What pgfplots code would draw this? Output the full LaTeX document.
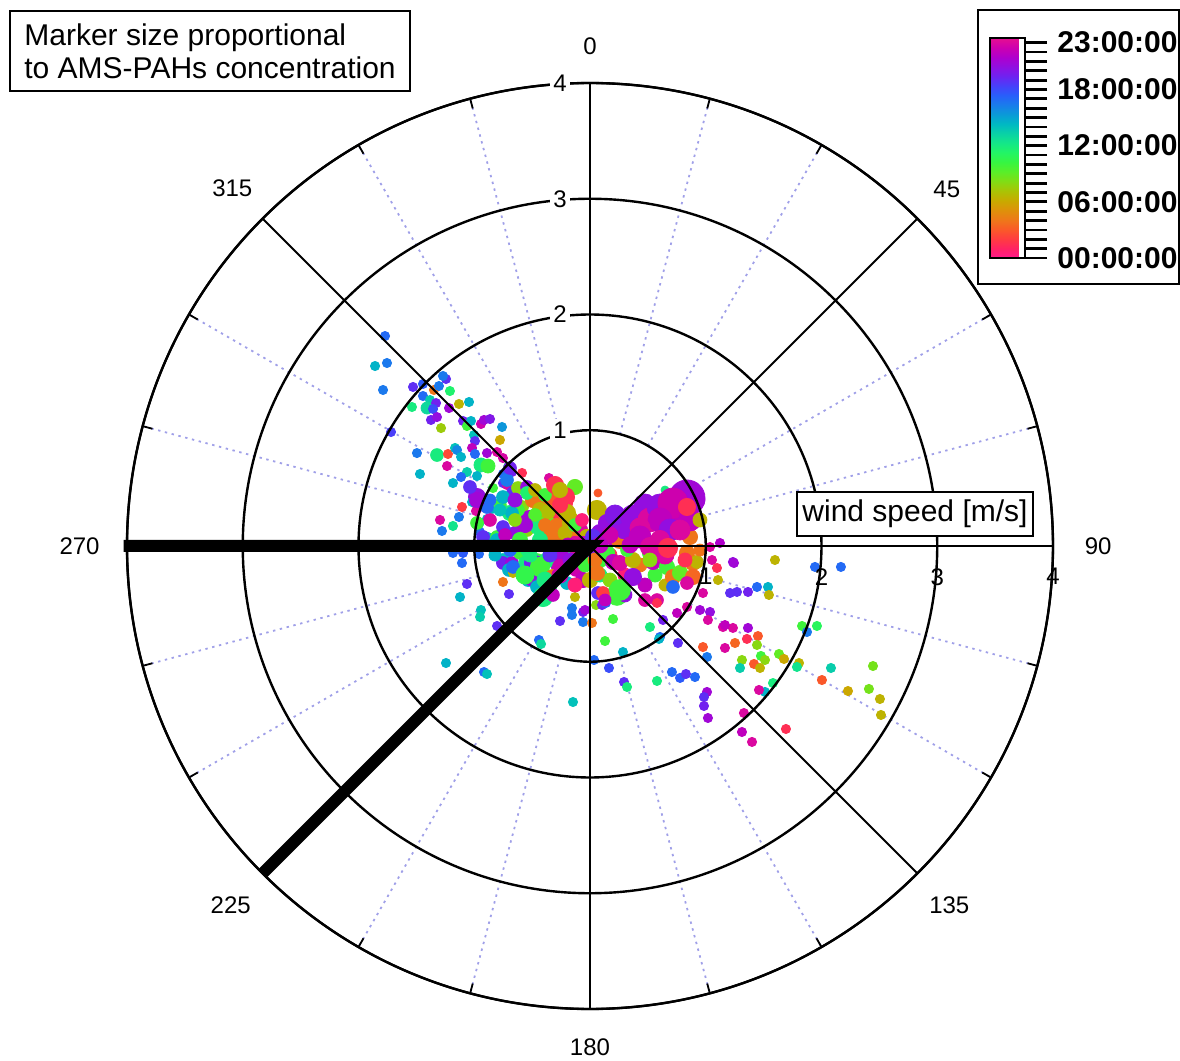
\documentclass[border=0pt]{standalone}
\usepackage{pgfplots}
\pgfplotsset{compat=1.18}
\usepackage{pgfplotstable}
\usepgfplotslibrary{polar}
\usetikzlibrary{calc}
\usepackage{fontspec}
\setmainfont{Liberation Sans}

% hour of day colour scale, 00 to 23
\pgfplotsset{
  colormap={hrs}{
    rgb255=(255,25,140) rgb255=(255,35,100) rgb255=(255,60,65) rgb255=(250,90,40)
    rgb255=(238,120,25) rgb255=(222,145,10) rgb255=(200,170,0) rgb255=(170,195,5)
    rgb255=(130,220,20) rgb255=(90,238,40) rgb255=(55,245,65) rgb255=(35,245,100)
    rgb255=(20,232,135) rgb255=(10,210,165) rgb255=(0,185,195) rgb255=(10,155,215)
    rgb255=(25,125,235) rgb255=(40,95,250) rgb255=(70,65,250) rgb255=(110,35,240)
    rgb255=(145,15,225) rgb255=(175,0,205) rgb255=(205,0,175) rgb255=(230,15,145)
  }
}

% x = east, y = north component of wind [m/s]; h = hour; s = marker radius [pt]
\pgfplotstableread{
x y h s
-1.771 1.814 17 2.3
-1.857 1.555 14.5 2.3
-1.754 1.581 16.5 2.3
-1.788 1.348 16.5 2.3
-1.719 0.985 18.5 2.3
-1.529 1.374 19 2.3
-1.443 1.400 17.5 2.3
-1.348 1.348 4 2.3
-1.443 1.296 17 2.3
-1.305 1.382 16.5 2.3
-1.244 1.443 19 2.3
-1.270 1.469 16.5 2.3
-1.210 1.339 11.5 2.3
-1.538 1.201 12 2.3
-1.382 1.261 13.5 2.3
-1.408 1.192 13 3
-1.330 1.235 19.5 2.3
-1.356 1.184 18 2.3
-1.218 1.192 21 2.3
-1.132 1.227 6.5 2.3
-1.045 1.244 14.5 2.3
-1.374 1.089 19.5 2.3
-1.322 1.114 20.5 2.3
-1.287 1.019 7.5 2.3
-1.097 1.080 19.5 2.3
-1.063 1.037 10 2.3
-1.028 1.080 14.5 2.3
-0.942 1.054 22.5 2.3
-0.916 1.089 21 2.3
-0.864 1.097 20 2.3
-0.760 1.028 15.5 2.3
-1.002 0.959 14 2.3
-0.994 0.907 19 2.3
-0.778 0.916 6 2.3
-1.495 0.803 16.5 2.3
-1.322 0.786 12 3.2
-1.227 0.795 2.5 2.3
-1.235 0.691 23 2.3
-1.166 0.847 14 2.3
-1.149 0.829 16 2.3
-1.114 0.769 14.5 2.3
-1.019 0.847 22 2.3
-0.994 0.795 17 2.3
-0.890 0.803 21 2.3
-0.803 0.812 23 2.3
-0.752 0.760 22.8 2.3
-0.942 0.700 12 3.5
-0.881 0.691 10 3.5
-1.469 0.622 14.5 2.3
-1.063 0.639 13.5 2.3
-0.976 0.605 14.5 2.3
-1.114 0.596 17 2.3
-0.752 0.622 17 2.3
-0.674 0.639 19.5 2.3
-0.708 0.683 11 2.3
-1.296 0.225 23 2.3
-1.279 0.130 16.5 2.3
-1.184 0.173 12.5 2.3
-1.132 0.251 16.5 2.3
-1.106 0.337 2 2.3
-1.184 0.544 14.5 2.3
-0.976 0.423 20.5 4.3
-1.019 0.380 14.5 2.3
-0.985 0.302 23 2.3
-0.924 0.337 22 2.3
-0.959 0.190 14 2.3
-0.890 0.233 14.5 2.3
-0.838 0.501 10 2.3
-0.587 0.631 1.5 2.3
-0.354 0.587 23 2.3
-0.752 0.544 19 2.3
-0.717 0.527 23 2.3
-0.665 0.458 19 3.2
-0.622 0.501 8 3.2
-0.544 0.510 20.5 3.2
-0.501 0.458 21 3.2
-0.432 0.371 6.5 3.8
-0.371 0.337 4 3.8
-0.130 0.510 9 3.8
-0.216 0.423 1.5 4.8
-0.847 0.337 14.5 3.2
-0.778 0.354 10 3.2
-0.691 0.285 12 3.8
-0.587 0.337 8 3.2
-0.518 0.225 21 4.8
-0.432 0.251 10 3.8
-0.320 0.225 4 3.8
-0.259 0.285 1.5 4.3
-0.173 0.225 6.5 4.3
-0.950 0.121 17 2.3
-0.881 0.078 14 2.3
-0.803 0.078 10 3.2
-0.717 0.112 17.5 3.2
-0.631 0.112 20.5 3.8
-0.544 0.138 8 3.2
-0.371 0.112 4 3.8
-0.259 0.138 3.5 3.8
-0.147 0.164 10 3.8
-1.184 -0.060 17 2.3
-1.097 -0.060 17.5 2.3
-1.106 -0.147 17 2.3
-0.959 -0.069 17 2.3
-0.752 -0.121 14 3.2
-0.752 -0.147 19.5 3.2
-0.674 -0.147 21 3.2
-0.700 -0.207 14.5 3.2
-0.665 -0.233 6.5 2.3
-0.752 -0.311 4 2.3
-0.700 -0.415 19 2.3
-1.063 -0.328 19 2.3
-1.123 -0.441 14.5 2.3
-0.942 -0.553 14 2.3
-0.950 -0.613 13.5 2.3
-0.803 -0.691 19 2.3
-1.244 -1.011 14.5 2.3
-0.916 -1.089 17 2.3
-0.890 -1.106 14 2.3
-0.147 -1.348 14 2.3
-0.544 -0.268 21 3.2
-0.432 -0.225 14.5 3.2
-0.371 -0.354 11.5 4.8
-0.458 -0.121 10 3.2
-0.320 -0.060 19 3.2
-0.605 -0.060 10 3.2
-0.544 -0.035 12 3.2
-0.562 -0.147 12 3.2
-0.492 -0.147 19.5 4.3
-0.432 -0.164 19 3.2
-0.406 -0.138 19.5 3.2
-0.328 -0.104 4 3.2
-0.285 -0.164 21 3.2
-0.536 -0.294 14.5 3.2
-0.501 -0.294 20.5 3.2
-0.458 -0.354 14.5 3.2
-0.406 -0.441 12 4.8
-0.320 -0.423 22 3.2
-0.441 -0.812 17 2.3
-0.423 -0.847 13 2.3
-0.259 -0.648 19 2.3
-0.156 -0.536 16.5 2.3
-0.156 -0.596 16.5 2.3
-0.130 -0.441 6.5 2.3
-0.060 -0.570 19.5 2.3
-0.043 -0.553 21 2.3
-0.060 -0.657 16.5 2.3
0.017 -0.665 4 2.3
0.035 -0.985 17 2.3
0.164 -1.054 18 2.3
0.130 -0.821 10 2.3
0.199 -0.631 10 2.3
0.069 -0.406 19 3.2
0.052 -0.510 8 2.3
0.104 -0.510 19.5 2.3
0.138 -0.492 17 2.3
0.233 -0.423 10 5.2
-0.233 0.371 1.5 4.8
-0.199 0.285 6.5 4.3
-0.320 0.423 3 4.3
-0.492 0.397 4 3.8
-0.432 0.311 6.5 3.8
-0.544 0.458 11.5 3.2
-0.622 0.311 10 3.2
-0.371 0.199 9 3.8
-0.285 0.164 4 4.3
-0.173 0.199 6.5 3.8
-0.086 0.138 23 3.8
-0.752 0.164 19 3.2
-0.864 0.225 23 3.2
-0.976 0.199 10 3.2
-0.924 0.078 19 3.2
-0.803 0.052 14.5 3.2
-0.674 0.285 14.5 3.2
-0.717 0.570 16.5 3.2
-0.752 0.423 14.5 3.2
-0.890 0.337 17 3.2
-0.976 0.397 21 3.8
-1.037 0.510 19 3.2
-0.691 0.674 19.5 3.2
-0.449 0.164 12 3.8
-0.173 0.078 4 3.8
-0.026 0.078 6.5 3.8
-0.026 -0.060 10 3.2
-0.147 -0.095 12 3.2
-0.259 -0.060 21 3.8
-0.371 -0.121 12 3.8
-0.432 -0.181 10 4.8
-0.665 -0.181 17 3.2
-0.259 -0.181 22.5 3.8
-0.112 -0.181 22.5 4.8
-0.060 -0.294 22 3.8
-0.199 -0.320 14.5 3.2
-0.320 -0.268 4 3.8
0.000 -0.294 6.5 3.8
0.026 -0.060 17 3.2
0.112 -0.406 2 3.2
-0.060 0.009 22 4.3
0.060 -0.017 20 3.8
0.086 -0.121 10 3.8
-0.130 0.009 23 4.3
-0.363 0.294 7 3.5
-0.259 0.354 1.5 3.8
-0.389 0.181 4 3.2
-0.475 0.268 9.5 3.2
-0.562 0.181 21 3.8
-0.648 0.225 8 3.2
-0.734 0.095 22 3.2
-0.605 0.052 10 3.8
-0.432 0.052 12 3.8
-0.302 0.052 4 3.5
-0.216 0.112 6.5 3.5
-0.130 0.181 10 3.2
-0.069 0.225 0.5 3.2
-0.190 0.009 22 3.5
-0.346 -0.078 19 3.5
-0.518 -0.078 12 3.5
-0.691 -0.035 17 3.2
-0.821 -0.078 14.5 3
-0.562 -0.251 10.5 4.5
-0.389 -0.294 12 4
-0.259 -0.251 22.5 4
-0.130 -0.337 0.5 3.5
-0.173 -0.121 20.5 3.5
-0.043 -0.164 10 3.5
0.043 -0.121 4 3.5
0.086 -0.251 12 3.5
0.173 -0.294 8 3.5
0.302 -0.251 0.5 3.5
0.432 -0.164 4 3.5
0.562 -0.251 10 3.5
0.648 -0.337 6.5 3
0.475 -0.337 22 3.5
0.302 -0.423 20.5 3.5
0.130 -0.467 22 3
0.173 -0.078 1.5 3.5
-0.778 0.311 14 3
-0.864 0.397 17 3
-0.648 0.397 20.5 3.5
-0.475 0.484 6.5 3.2
-0.389 0.441 10 3.2
-0.302 0.527 1.5 4.3
-0.259 0.484 6.5 3.8
0.648 0.484 12 2
0.069 0.458 3 2
0.060 0.311 6.5 4.8
0.086 0.112 20.5 4.3
0.026 0.078 19 3.8
0.147 -0.060 10 3.8
0.199 -0.138 22 3.8
0.060 -0.233 4 3.8
0.259 -0.147 23 3.8
0.371 -0.121 6.5 3.8
0.371 -0.268 20.5 4.3
0.259 -0.380 10 5.2
0.518 -0.060 10 3.8
0.544 -0.138 22 3.8
0.665 -0.181 10 3.8
0.717 -0.268 4 3.8
0.778 -0.233 9 3.8
0.838 -0.060 4 3.8
0.890 -0.147 4 3.8
0.924 -0.138 6.5 3.2
0.890 -0.268 3.5 3.8
0.717 -0.354 17 3.2
0.838 -0.320 23 3.2
0.976 -0.406 23 2.3
1.054 -0.121 23 2.3
1.097 -0.190 1.5 2.3
1.106 -0.294 6.5 2.3
1.037 -0.009 23 2.3
1.123 0.026 21.5 2.3
1.235 -0.138 20.5 2.3
0.475 -0.467 23 3.2
0.579 -0.467 23 3.2
0.631 -0.639 19.5 2.3
0.752 -0.579 22 2.3
0.838 -0.527 23 2.3
0.950 -0.553 21 2.3
1.037 -0.570 20.5 2.3
1.019 -0.639 23 2.3
1.149 -0.700 23 2.3
1.235 -0.708 23 2.3
1.365 -0.708 21 2.3
0.518 -0.700 12 2.3
0.605 -0.786 17 2.3
1.944 -0.181 17 2.3
2.168 -0.181 17 2.3
1.244 -0.147 21 2.3
1.598 -0.121 6.5 2.3
1.210 -0.406 19 2.3
1.270 -0.397 19 2.3
1.365 -0.397 19.5 2.3
1.443 -0.354 17 2.3
1.538 -0.354 14.5 2.3
1.546 -0.423 6.5 2.3
0.285 -0.916 14.5 2.3
0.294 -1.175 19 2.3
0.320 -1.218 12 2.3
0.579 -1.166 12 2.3
0.708 -1.089 17 2.3
0.778 -1.140 17.5 2.3
0.829 -1.106 19 2.3
0.907 -1.132 17 2.3
1.011 -1.261 21 2.3
0.985 -1.305 19 2.3
0.985 -1.382 19.5 2.3
1.019 -1.486 21 2.3
0.976 -0.873 3 2.3
1.011 -0.959 16.5 2.3
1.166 -0.683 22 2.3
1.356 -0.803 1.5 2.3
1.451 -0.778 3 2.3
1.253 -0.838 3.5 2.3
1.166 -0.881 23 2.3
1.443 -0.855 8 2.3
1.313 -0.985 8 2.3
1.296 -1.054 13.5 2.3
1.417 -1.019 3 2.3
1.477 -0.950 10 2.3
1.512 -0.985 8 2.3
1.469 -1.054 6.5 2.3
1.633 -0.933 9 2.3
1.676 -0.976 6 2.3
1.806 -1.011 6.5 2.3
1.788 -1.045 12.5 2.3
1.832 -0.691 10 2.3
1.875 -0.743 16.5 2.3
1.961 -0.691 11 2.3
2.082 -1.054 13.5 2.3
2.004 -1.158 3 2.3
2.229 -1.253 6 2.3
2.410 -1.235 8.5 2.3
2.445 -1.037 8.5 2.3
2.505 -1.322 6.5 2.3
2.514 -1.460 6.5 2.3
1.581 -1.184 12 2.3
1.512 -1.261 14.5 2.3
1.460 -1.244 23 2.3
1.330 -1.443 23 2.3
1.313 -1.607 22 2.3
1.400 -1.693 23 2.3
1.693 -1.581 1.5 2.3
0.596 -0.803 14.5 2.3
0.760 -0.838 19 2.3
0.579 -0.492 1.5 2.3
0.838 0.415 21 9
0.907 0.397 21 5
0.147 0.199 20.5 4.3
0.199 0.078 22 4.3
0.259 0.052 4 4.3
0.320 -0.035 10 3.2
0.864 0.078 4 3.8
0.302 0.156 20.5 5.5
0.216 0.268 20 5
0.475 0.354 20.5 5.5
0.371 0.251 20.5 6
0.518 0.225 23 6
0.717 0.225 22 6
0.605 0.337 20.5 6.5
0.717 0.371 22.5 7.5
0.605 0.225 22 6
0.864 0.225 22 5.5
0.691 0.138 20.5 5.5
0.432 0.156 23 5
0.432 0.078 22 5.5
0.778 0.138 23 5
0.605 0.052 23 4.8
0.518 -0.009 23 4.8
0.648 -0.078 23 4.5
0.346 0.009 22 4
0.173 0.095 22.5 4
0.086 0.009 22 4
-0.043 -0.035 19.5 3.5
0.518 -0.121 8 3.5
0.821 -0.121 1.5 3.5
0.950 -0.035 4 3
0.674 -0.017 1.5 4.8
0.838 0.337 1.5 4.3
0.950 0.225 6.5 3.5
}\pts

\begin{document}
\begin{tikzpicture}
\begin{polaraxis}[
    scale only axis, width=463pt, height=463pt,
    xmin=0, xmax=360, ymin=0, ymax=4,
    xtick={0,45,...,315}, xticklabels={},
    minor xtick={15,30,60,75,105,120,150,165,195,210,240,255,285,300,330,345},
    ytick={1,2,3,4}, yticklabels={},
    ytick style={draw=none},
    xmajorgrids, ymajorgrids,
    major x grid style={black, line width=0.9pt},
    major y grid style={black, line width=1.2pt},
    axis line style={black, line width=1.1pt},
    xtick style={black, line width=0.9pt},
    tick align=outside, major tick length=0pt, minor tick length=5pt,
    axis on top, clip=false, clip marker paths=true,
    colormap name=hrs, point meta min=0, point meta max=23.5,
]
\coordinate (C) at (axis cs:0,0);
\coordinate (L1) at (axis cs:90,1);
\coordinate (L2) at (axis cs:90,2);
\coordinate (L3) at (axis cs:90,3);
\coordinate (L4) at (axis cs:90,4);
\coordinate (R1) at (axis cs:0,1);
\coordinate (R2) at (axis cs:0,2);
\coordinate (R3) at (axis cs:0,3);
\coordinate (R4) at (axis cs:0,4);

% dotted minor spokes, from 1 m/s outwards
\pgfplotsinvokeforeach{15,30,60,75,105,120,150,165,195,210,240,255,285,300,330,345}{
  \draw[color={rgb,255:red,160;green,160;blue,232}, line width=0.9pt,
        dash pattern=on 1.2pt off 2.3pt] (axis cs:#1,1) -- (axis cs:#1,4);
}

\addplot[scatter, only marks, mark=*, data cs=cart,
    point meta=\thisrow{h},
    scatter/use mapped color={draw=mapped color, fill=mapped color},
    visualization depends on={\thisrow{s} \as \msz},
    scatter/@pre marker code/.append style={/tikz/mark size=\msz}]
    table[x=x, y=y] {\pts};

% sector limits
\addplot[black, line width=6pt, line join=miter, line cap=butt]
    coordinates {(180,4.03) (0,0) (225,4)};

% compass bearings (math angle -> bearing)
\node[font=\fontsize{12}{12}\selectfont] at (axis cs:90,4.32) {0};
\node[font=\fontsize{12}{12}\selectfont] at (axis cs:45,4.36) {45};
\node[font=\fontsize{12}{12}\selectfont] at (axis cs:0,4.39) {90};
\node[font=\fontsize{12}{12}\selectfont] at (axis cs:315,4.39) {135};
\node[font=\fontsize{12}{12}\selectfont] at (axis cs:270,4.33) {180};
\node[font=\fontsize{12}{12}\selectfont] at (axis cs:225,4.39) {225};
\node[font=\fontsize{12}{12}\selectfont] at (axis cs:180,4.41) {270};
\node[font=\fontsize{12}{12}\selectfont] at (axis cs:135,4.37) {315};
\end{polaraxis}

% radial labels along the north and east spokes
\foreach \r in {1,2,3,4}{
  \draw[line width=0.9pt] ($(L\r)+(-4pt,0)$) -- ($(L\r)+(4pt,0)$);
  \node[fill=white, inner sep=1.5pt, anchor=east, font=\fontsize{12}{12}\selectfont]
      at ($(L\r)+(-10pt,0)$) {\r};
  \draw[line width=0.9pt] ($(R\r)+(0,-4pt)$) -- ($(R\r)+(0,4pt)$);
  \node[inner sep=0pt, anchor=north, font=\fontsize{12}{12}\selectfont]
      at ($(R\r)+(0,-11pt)$) {\r};
}

% colour bar
\begin{axis}[at={($(C)+(200pt,144pt)$)}, anchor=south west,
    scale only axis, width=17.5pt, height=110pt, hide axis,
    xmin=0, xmax=1, ymin=0, ymax=1,
    colormap name=hrs, point meta min=0, point meta max=23.5,
    colorbar, colorbar shift/.style={},
    colorbar style={
        at={(parent axis.south west)}, anchor=south west,
        scale only axis, width=17.5pt, height=110pt,
        ytick={0,6,12,18,23},
        yticklabels={00:00:00,06:00:00,12:00:00,18:00:00,23:00:00},
        minor ytick={1,...,22},
        ytick pos=right, yticklabel pos=right,
        tick align=outside, major tick length=11pt, minor tick length=11pt,
        tick style={black, line width=1.4pt},
        axis line style={black, line width=1pt},
        yticklabel style={font=\fontsize{15}{15}\selectfont\bfseries, inner sep=5pt},
    }]
\addplot[draw=none] coordinates {(0,0)};
\end{axis}

\draw[line width=1pt] ($(C)+(194pt,268pt)$) rectangle ($(C)+(294.5pt,131pt)$);

% note box
\draw[line width=1pt, fill=white] ($(C)+(-290pt,267.5pt)$) rectangle ($(C)+(-90pt,227.5pt)$);
\node[anchor=west, align=left, inner sep=0pt, font=\fontsize{15}{16.5}\selectfont]
    at ($(C)+(-283pt,247.5pt)$) {Marker size proportional\\to AMS-PAHs concentration};

% axis title box
\draw[line width=1pt, fill=white] ($(C)+(103.5pt,27pt)$) rectangle ($(C)+(221.5pt,5pt)$);
\node[font=\fontsize{15}{15}\selectfont] at ($(C)+(162.5pt,16pt)$) {wind speed [m/s]};

\pgfresetboundingbox
\path[use as bounding box] ($(C)+(-295pt,-257.5pt)$) rectangle ($(C)+(295pt,273pt)$);
\end{tikzpicture}
\end{document}
